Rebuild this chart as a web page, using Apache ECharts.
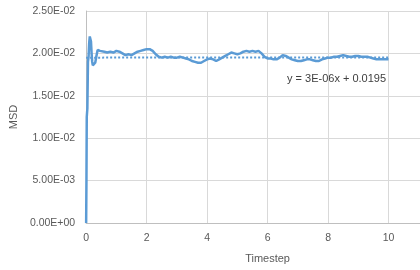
<!DOCTYPE html>
<html lang="en">
<head>
    <meta charset="UTF-8">
    <title>MSD</title>
    <script src="https://cdn.jsdelivr.net/npm/echarts@6/dist/echarts.min.js"></script>
    <style>
        html, body {
            margin: 0;
            height: 100%;
            background: #fff;
            overflow: hidden;
        }
    </style>
</head>
<body>
<!--图表比窗口宽一点，右侧被裁掉-->
<div id="main" style="width: 460px;height: 270px"></div>
<script>
    // 数据
    var timestep = [0, 0.01, 0.02, 0.04, 0.06, 0.08, 0.1, 0.12, 0.14, 0.16, 0.18, 0.2, 0.22, 0.26, 0.3, 0.34, 0.38, 0.42, 0.46,
        0.5, 0.6, 0.7, 0.8, 0.9, 1.0, 1.1, 1.2, 1.3, 1.4, 1.5, 1.6, 1.7, 1.8, 1.9, 2.0, 2.1, 2.2, 2.3, 2.4, 2.5,
        2.6, 2.7, 2.8, 2.9, 3.0, 3.1, 3.2, 3.3, 3.4, 3.5, 3.6, 3.7, 3.8, 3.9, 4.0, 4.1, 4.2, 4.3, 4.4, 4.5,
        4.6, 4.7, 4.8, 4.9, 5.0, 5.1, 5.2, 5.3, 5.4, 5.5, 5.6, 5.7, 5.8, 5.9, 6.0, 6.1, 6.2, 6.3, 6.4, 6.5,
        6.6, 6.7, 6.8, 6.9, 7.0, 7.1, 7.2, 7.3, 7.4, 7.5, 7.6, 7.7, 7.8, 7.9, 8.0, 8.1, 8.2, 8.3, 8.4, 8.5,
        8.6, 8.7, 8.8, 8.9, 9.0, 9.1, 9.2, 9.3, 9.4, 9.5, 9.6, 9.7, 9.8, 9.9, 10.0];
    var msd = [0, 0.0050, 0.0125, 0.0135, 0.0190, 0.0196, 0.0212, 0.0220, 0.0221, 0.0214, 0.0200, 0.0190, 0.0186, 0.0185, 0.0189, 0.0197, 0.0204, 0.0206, 0.0203,
        0.0201, 0.0202, 0.0201, 0.0202, 0.0201, 0.0203, 0.0202, 0.0200, 0.0198, 0.0199, 0.0198, 0.0200, 0.0202, 0.0203, 0.0204, 0.0205, 0.0205, 0.0203, 0.0199, 0.0196, 0.0195,
        0.0196, 0.0195, 0.0196, 0.0195, 0.0195, 0.0196, 0.0195, 0.0194, 0.0193, 0.0191, 0.0190, 0.0189, 0.0189, 0.0191, 0.0193, 0.0194, 0.0193, 0.0191, 0.0193, 0.0195,
        0.0197, 0.0199, 0.0201, 0.0200, 0.0199, 0.0200, 0.0202, 0.0203, 0.0202, 0.0203, 0.0202, 0.0203, 0.0200, 0.0196, 0.0194, 0.0194, 0.0193, 0.0193, 0.0195, 0.0198,
        0.0197, 0.0195, 0.0193, 0.0192, 0.0191, 0.0191, 0.0192, 0.0193, 0.0193, 0.0192, 0.0191, 0.0191, 0.0193, 0.0194, 0.0195, 0.0195, 0.0196, 0.0196, 0.0197, 0.0198,
        0.0197, 0.0196, 0.0196, 0.0197, 0.0197, 0.0196, 0.0196, 0.0196, 0.0195, 0.0194, 0.0193, 0.0193, 0.0193, 0.0193, 0.0193];
    // 趋势线端点
    var trendX = [0, 10];
    var trendY = [0.0195, 0.01953];
    var trendText = 'y = 3E-06x + 0.0195';

    var myChart = echarts.init(document.getElementById('main'));

    var lineData = [];
    for (let i = 0; i < timestep.length; i++) {
        lineData.push([timestep[i], msd[i]]);
    }
    var trendData = [];
    for (let i = 0; i < trendX.length; i++) {
        trendData.push([trendX[i], trendY[i]]);
    }

    // 科学计数法 2.50E-02
    function sci(v) {
        var s = v.toExponential(2).split('e');
        var e = parseInt(s[1], 10);
        var sign = e < 0 ? '-' : '+';
        e = Math.abs(e);
        return s[0] + 'E' + sign + (e < 10 ? '0' + e : e);
    }

    var font = 'Liberation Sans, Arial, sans-serif';

    var option = {
        backgroundColor: '#fff',
        animation: false,
        grid: {
            left: 83,
            right: 11,
            top: 11,
            bottom: 47
        },
        xAxis: {
            type: 'value',
            min: 0,
            max: 12,
            interval: 2,
            name: 'Timestep',
            nameLocation: 'middle',
            nameGap: 30,
            nameTextStyle: {color: '#595959', fontSize: 11, fontFamily: font},
            axisLine: {show: true, lineStyle: {color: '#bfbfbf', width: 1}},
            axisTick: {show: false},
            axisLabel: {color: '#595959', fontSize: 10.5, fontFamily: font, margin: 10},
            splitLine: {show: true, lineStyle: {color: '#d9d9d9', width: 1}}
        },
        yAxis: {
            type: 'value',
            min: 0,
            max: 0.025,
            interval: 0.005,
            name: 'MSD',
            nameLocation: 'middle',
            nameGap: 63,
            nameTextStyle: {color: '#595959', fontSize: 11, fontFamily: font},
            axisLine: {show: true, lineStyle: {color: '#bfbfbf', width: 1}},
            axisTick: {show: false},
            axisLabel: {
                color: '#595959', fontSize: 10.5, fontFamily: font, margin: 11,
                formatter: function (v) {
                    return sci(v);
                }
            },
            splitLine: {show: true, lineStyle: {color: '#d9d9d9', width: 1}}
        },
        graphic: [{
            type: 'text',
            left: 287,
            top: 73,
            style: {text: trendText, fill: '#404040', font: '11px ' + font}
        }],
        series: [{
            name: 'MSD',
            type: 'line',
            data: lineData,
            showSymbol: false,
            z: 3,
            lineStyle: {color: '#5b9bd5', width: 2.5}
        }, {
            name: 'trend',
            type: 'line',
            data: trendData,
            showSymbol: false,
            z: 2,
            lineStyle: {color: '#5b9bd5', width: 2, type: [2, 2]}
        }]
    };

    myChart.setOption(option);
</script>
</body>
</html>
